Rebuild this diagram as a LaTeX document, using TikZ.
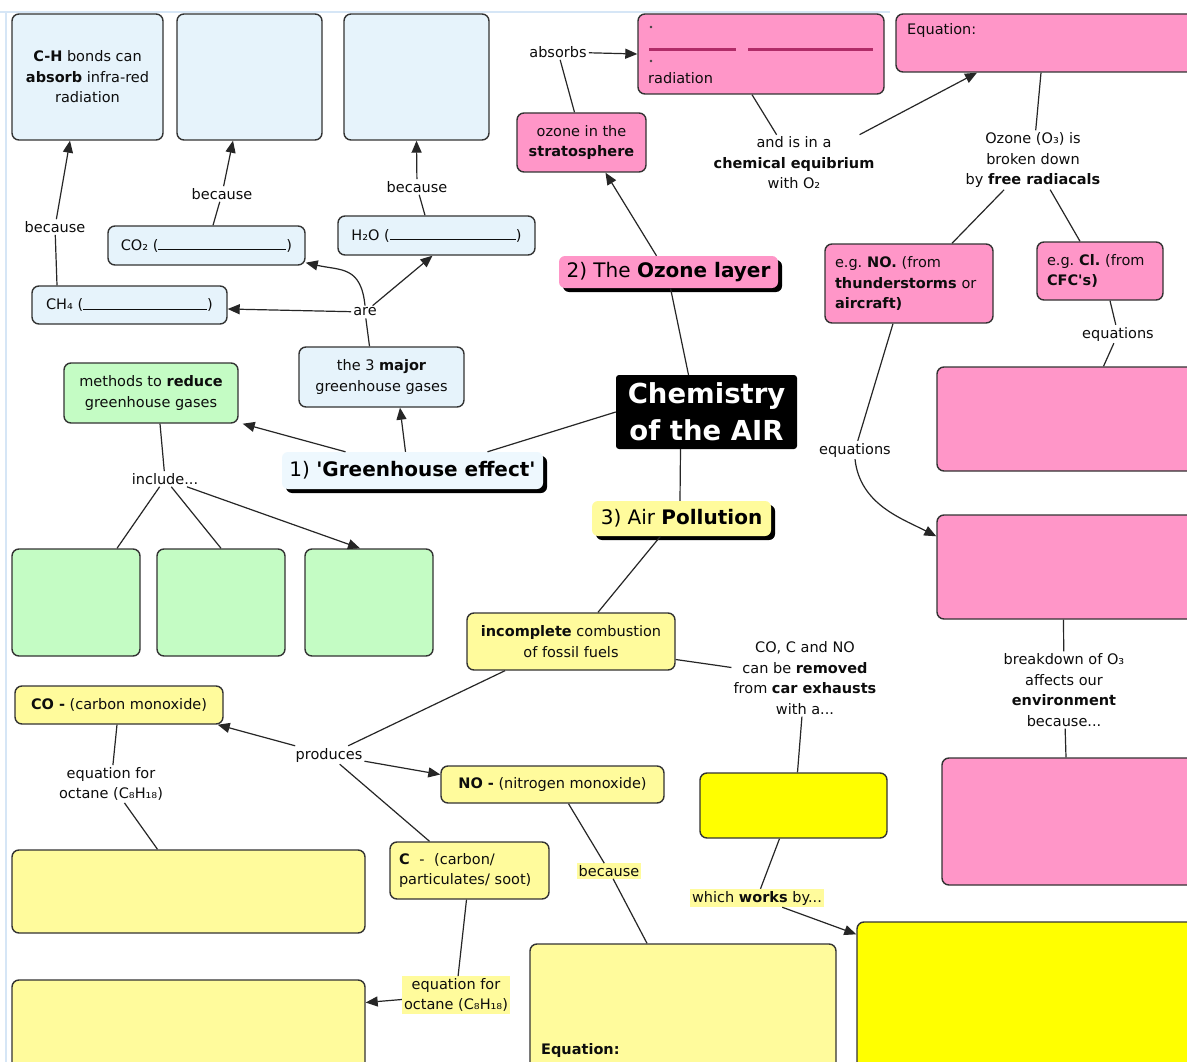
\documentclass[tikz,border=0pt]{standalone}
\usepackage{fontspec}
\setmainfont{DejaVu Sans}
\usetikzlibrary{arrows.meta,shadows}
\definecolor{lblue}{HTML}{E6F3FB}
\definecolor{tblue}{HTML}{EEF8FE}
\definecolor{lgreen}{HTML}{C4FCC4}
\definecolor{pinkf}{HTML}{FF96C8}
\definecolor{lyel}{HTML}{FFFB9C}
\definecolor{byel}{HTML}{FFFF00}
\definecolor{edge}{HTML}{333333}
\definecolor{magl}{HTML}{B02C68}
\definecolor{framec}{HTML}{D6E6F6}
\newcommand\myfs{\fontsize{14.5}{20.5}\selectfont}
\newcommand\bigfs{\fontsize{20}{24}\selectfont}
\newcommand\chemfs{\fontsize{27.5}{37}\selectfont}
\tikzset{
 cbox/.style={draw=edge, line width=1.4pt, rounded corners=7pt, inner sep=2pt, font=\myfs, align=center, text=black!95},
 bluebox/.style={cbox, fill=lblue},
 greenbox/.style={cbox, fill=lgreen},
 pinkbox/.style={cbox, fill=pinkf},
 lybox/.style={cbox, fill=lyel},
 bybox/.style={cbox, fill=byel},
 lab/.style={font=\myfs, align=center, inner sep=2pt, text=black!95},
 hlab/.style={lab, fill=lyel},
 ln/.style={line width=1.2pt, draw=black!85},
 arr/.style={ln, -{Triangle[length=12pt,width=10pt]}},
 topic/.style={rounded corners=6pt, inner sep=2pt, font=\bigfs, text=black,
   drop shadow={shadow xshift=4pt, shadow yshift=-4pt, fill=black, opacity=1}},
 sz/.style 2 args={minimum width=#1pt, minimum height=#2pt},
}
\begin{document}
\begin{tikzpicture}[x=1pt,y=-1pt]
\useasboundingbox (0,0) rectangle (1187,1062);
\clip (0,0) rectangle (1187,1062);
\fill[white] (0,0) rectangle (1187,1062);
\draw[framec, line width=2pt] (0,12) -- (890,12);
\draw[framec, line width=2pt] (6,12) -- (6,1062);

% ---------- greenhouse part (blue) ----------
\node[bluebox, sz={151}{126}] (b1) at (87.5,77) {\textbf{C-H} bonds can\\\textbf{absorb} infra-red\\radiation};
\node[bluebox, sz={145}{126}] (b2) at (249.5,77) {};
\node[bluebox, sz={145}{126}] (b3) at (416.5,77) {};
\node[bluebox, sz={197}{39}] (co2) at (206.5,245.5) {CO₂ (\rule{128pt}{0.9pt})};
\node[bluebox, sz={197}{39}] (h2o) at (436.5,235.5) {H₂O (\rule{126pt}{0.9pt})};
\node[bluebox, sz={195}{38}] (ch4) at (129.5,305) {CH₄ (\rule{124pt}{0.9pt})};
\node[bluebox, sz={165}{60}] (major) at (381.5,377) {the 3 \textbf{major}\\greenhouse gases};
\node[topic, fill=tblue, sz={261}{37}] (ghe) at (412.5,470.5) {1) \textbf{\textquotesingle Greenhouse effect\textquotesingle}};
\node[greenbox, sz={174}{60}] (methods) at (151,393) {methods to \textbf{reduce}\\greenhouse gases};
\node[greenbox, sz={128}{107}] (g1) at (76,602.5) {};
\node[greenbox, sz={128}{107}] (g2) at (221,602.5) {};
\node[greenbox, sz={128}{107}] (g3) at (369,602.5) {};

\node[lab] (because1) at (55,227) {because};
\node[lab] (because2) at (222,194) {because};
\node[lab] (because3) at (417,187) {because};
\node[lab] (are) at (365,312) {are};
\node[lab] (include) at (165,479) {include...};

% ---------- ozone part (pink) ----------
\node[pinkbox, sz={246}{80}] (rad) at (761,54) {};
\fill[black!75] (651,27) circle (1.3pt);
\fill[black!75] (651,61) circle (1.3pt);
\draw[magl, line width=3pt] (649,50) -- (736,50);
\draw[magl, line width=3pt] (748,50) -- (873,50);
\node[lab, anchor=west, inner sep=0pt] at (648,78) {radiation};
\node[pinkbox, sz={304}{58}] (eqn) at (1048,43) {};
\node[lab, anchor=west, inner sep=0pt] at (907,31) {Equation:};
\node[pinkbox, sz={129}{59}] (ozs) at (581.5,142.5) {ozone in the\\\textbf{stratosphere}};
\node[topic, fill=pinkf, sz={219}{32}] (ozl) at (668.5,272) {2) The \textbf{Ozone layer}};
\node[pinkbox, sz={168}{79}, align=left, text width=148pt, inner xsep=10pt] (egno) at (909,283.5) {e.g.\ \textbf{NO.}\ (from\\\textbf{thunderstorms} or\\\textbf{aircraft)}};
\node[pinkbox, sz={126}{58}, align=left, text width=106pt, inner xsep=10pt] (egcl) at (1100,271) {e.g.\ \textbf{Cl.}\ (from\\\textbf{CFC\textquotesingle s)}};
\node[pinkbox, sz={263}{104}] (p1) at (1068.5,419) {};
\node[pinkbox, sz={263}{104}] (p2) at (1068.5,567) {};
\node[pinkbox, sz={258}{127}] (p3) at (1071,821.5) {};

\node[lab] (absorbs) at (558,52) {absorbs};
\node[lab] (equil) at (794,163) {and is in a\\\textbf{chemical equibrium}\\with O₂};
\node[lab] (radicals) at (1033,160) {Ozone (O₃) is\\broken down\\by \textbf{free radiacals}};
\node[lab] (eq1) at (1118,334) {equations};
\node[lab] (eq2) at (855,450) {equations};
\node[lab] (brk) at (1064,690) {breakdown of O₃\\affects our\\\textbf{environment}\\because...};

% ---------- centre ----------
\node[fill=black, rounded corners=3pt, sz={181}{74}, inner sep=2pt, align=center, font=\chemfs\bfseries, text=white] (chem) at (706.5,412) {Chemistry\\of the AIR};

% ---------- pollution part (yellow) ----------
\node[topic, fill=lyel, sz={179}{35}] (airp) at (681.5,518.5) {3) Air \textbf{Pollution}};
\node[lybox, sz={208}{57}] (inc) at (571,641.5) {\textbf{incomplete} combustion\\of fossil fuels};
\node[lybox, sz={208}{38}] (co) at (119,705) {\textbf{CO -} (carbon monoxide)};
\node[lybox, sz={223}{37}] (no) at (552.5,784.5) {\textbf{NO -} (nitrogen monoxide)};
\node[lybox, sz={353}{83}] (y1) at (188.5,891.5) {};
\node[lybox, sz={159}{57}, align=left, text width=141pt, inner xsep=9pt] (cc) at (469.5,870.5) {\textbf{C}\ \ -\ \ (carbon/\\particulates/ soot)};
\node[lybox, sz={353}{95}] (y2) at (188.5,1027.5) {};
\node[lybox, sz={306}{131}] (eqy) at (683,1009.5) {};
\node[lab, anchor=west, inner sep=0pt, font=\myfs\bfseries] at (541,1050) {Equation:};
\node[bybox, sz={187}{65}] (by1) at (793.5,805.5) {};
\node[bybox, sz={343}{153}] (by2) at (1028.5,998.5) {};

\node[lab] (produces) at (329,755) {produces};
\node[lab] (eqfor1) at (111,784) {equation for\\octane (C₈H₁₈)};
\node[hlab] (because4) at (609,871) {because};
\node[hlab] (eqfor2) at (456,995) {equation for\\octane (C₈H₁₈)};
\node[lab] (removed) at (805,678) {CO, C and NO\\can be \textbf{removed}\\from \textbf{car exhausts}\\with a...};
\node[hlab] (works) at (757,898) {which \textbf{works} by...};

% ---------- connectors: greenhouse ----------
\draw[ln] ([xshift=-72.5pt]ch4.north) -- (because1);
\draw[arr] (because1) -- ([xshift=-17.5pt]b1.south);
\draw[ln] ([xshift=6.5pt]co2.north) -- (because2);
\draw[arr] (because2) -- ([xshift=-16.5pt]b2.south);
\draw[ln] ([xshift=-11.5pt]h2o.north) -- (because3);
\draw[arr] (because3) -- (b3.south);
\draw[ln] ([xshift=-12pt]major.north) -- (are);
\draw[arr] (are) -- ([yshift=-4pt]ch4.east);
\draw[arr] (are.north) .. controls +(-4,-40) and +(35,8) .. ([yshift=3pt]co2.south east);
\draw[arr] (are) -- ([xshift=-4pt]h2o.south);
\draw[arr] ([xshift=-67pt]ghe.north) -- ([xshift=4pt]methods.south east);
\draw[arr] ([xshift=-7pt]ghe.north) -- ([xshift=18.5pt]major.south);
\draw[ln] (chem.west) -- ([xshift=75pt]ghe.north);
\draw[ln] ([xshift=9pt]methods.south) -- (include);
\draw[ln] (include) -- ([xshift=41pt]g1.north);
\draw[ln] (include) -- (g2.north);
\draw[arr] (include) -- ([xshift=-9pt]g3.north);

% ---------- connectors: ozone ----------
\draw[ln] ([xshift=2pt]ozl.south) -- ([xshift=-18pt]chem.north);
\draw[arr] ([xshift=-12pt]ozl.north) -- ([xshift=24pt]ozs.south);
\draw[ln] ([xshift=-7pt]ozs.north) -- (absorbs);
\draw[arr] (absorbs) -- (rad.west);
\draw[ln] ([xshift=-9pt]rad.south) -- (equil);
\draw[arr] ([xshift=-17pt]equil.north east) -- ([xshift=-71pt]eqn.south);
\draw[ln] ([xshift=-7pt]eqn.south) -- (radicals);
\draw[ln] (radicals) -- ([xshift=43pt]egno.north);
\draw[ln] (radicals) -- ([xshift=-20pt]egcl.north);
\draw[ln] ([xshift=10pt]egcl.south) -- (eq1);
\draw[ln] (eq1) -- ([xshift=35pt]p1.north);
\draw[ln] ([xshift=-16pt]egno.south) -- (eq2);
\draw[arr] (eq2.south) .. controls +(5,45) and +(-35,-18) .. ([yshift=-22pt]p2.north west);
\draw[ln] ([xshift=-5pt]p2.south) -- (brk);
\draw[ln] (brk) -- ([xshift=-5pt]p3.north);

% ---------- connectors: pollution ----------
\draw[ln] ([xshift=-26pt]chem.south) -- ([xshift=-1.5pt]airp.north);
\draw[ln] ([xshift=-21pt]airp.south) -- ([xshift=27pt]inc.north);
\draw[ln] ([xshift=-66pt]inc.south) -- (produces);
\draw[arr] (produces) -- ([xshift=-6pt]co.south east);
\draw[arr] (produces) -- ([yshift=10pt]no.west);
\draw[ln] (produces) -- ([xshift=-40pt]cc.north);
\draw[ln] ([xshift=-2pt]co.south) -- (eqfor1);
\draw[ln] (eqfor1) -- ([xshift=-31pt]y1.north);
\draw[ln] ([xshift=16pt]no.south) -- (because4);
\draw[ln] (because4) -- ([xshift=-36pt]eqy.north);
\draw[ln] ([xshift=-3pt]cc.south) -- (eqfor2);
\draw[arr] (eqfor2) -- ([yshift=25pt]y2.east);
\draw[ln] ([yshift=-18pt]inc.east) -- (removed);
\draw[ln] (removed) -- ([xshift=4pt]by1.north);
\draw[ln] ([xshift=-14pt]by1.south) -- (works);
\draw[arr] (works) -- ([yshift=-13pt]by2.north west);
\end{tikzpicture}
\end{document}
